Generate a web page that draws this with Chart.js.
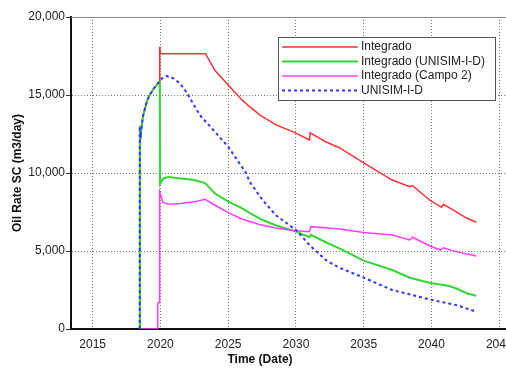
<!DOCTYPE html>
<html lang="en">
<head>
    <meta charset="UTF-8">
    <title>Oil Rate SC</title>
    <script src="https://cdn.jsdelivr.net/npm/chart.js"></script>
    <style>
        html, body { margin: 0; padding: 0; background: #fff; overflow: hidden; }
        #wrap { position: relative; width: 506px; height: 368px; }
    </style>
</head>
<body>
    <div id="wrap"><canvas id="oilChart" width="506" height="368"></canvas></div>

    <script>
        // Integrado
        const redYears  = [2018.47, 2018.48, 2018.55, 2018.7, 2019.0, 2019.2, 2019.5, 2019.93, 2019.95, 2020.0, 2023.33, 2024.0, 2025.0, 2026.0, 2026.58, 2027.4, 2028.5, 2030.0, 2031.0, 2031.05, 2032.2, 2033.2, 2035.0, 2037.1, 2038.4, 2038.6, 2039.85, 2040.75, 2040.88, 2041.8, 2042.56, 2043.3];
        const redValues = [0, 13000, 12500, 13600, 14600, 15000, 15400, 15850, 18100, 17650, 17650, 16600, 15640, 14700, 14250, 13680, 13100, 12560, 12115, 12580, 12000, 11620, 10650, 9550, 9120, 9190, 8270, 7800, 7990, 7520, 7130, 6840];

        // Integrado (UNISIM-I-D)
        const greenYears  = [2018.47, 2018.48, 2018.55, 2018.7, 2019.0, 2019.2, 2019.5, 2019.9, 2019.95, 2019.97, 2020.2, 2020.6, 2021.5, 2022.5, 2023.3, 2024.0, 2025.0, 2026.0, 2026.58, 2027.5, 2028.5, 2030.0, 2031.0, 2031.1, 2032.2, 2033.2, 2035.0, 2037.1, 2038.4, 2039.85, 2041.3, 2041.8, 2042.6, 2043.3];
        const greenValues = [0, 13000, 12500, 13600, 14600, 15000, 15400, 15850, 15800, 9300, 9650, 9750, 9650, 9550, 9350, 8700, 8160, 7750, 7450, 7000, 6650, 6240, 5880, 6030, 5560, 5170, 4380, 3780, 3290, 2970, 2760, 2610, 2290, 2130];

        // Integrado (Campo 2)
        const magentaYears  = [2018.47, 2019.79, 2019.8, 2019.92, 2019.94, 2020.2, 2020.68, 2021.5, 2022.5, 2023.3, 2024.0, 2025.0, 2026.0, 2027.3, 2028.5, 2030.0, 2031.0, 2031.1, 2033.2, 2035.0, 2037.1, 2038.4, 2038.6, 2039.85, 2040.66, 2040.88, 2041.8, 2043.3];
        const magentaValues = [0, 0, 1670, 1700, 8800, 8100, 8000, 8050, 8150, 8310, 7950, 7460, 7050, 6700, 6480, 6300, 6240, 6560, 6410, 6180, 6030, 5710, 5880, 5340, 5060, 5210, 4960, 4680];

        // UNISIM-I-D
        const blueYears  = [2018.47, 2018.48, 2018.55, 2018.7, 2019.0, 2019.2, 2019.5, 2019.9, 2020.1, 2020.43, 2021.0, 2021.42, 2021.9, 2022.9, 2025.0, 2026.33, 2026.58, 2027.54, 2028.5, 2030.0, 2031.0, 2032.2, 2033.2, 2035.0, 2037.1, 2039.85, 2041.8, 2043.3];
        const blueValues = [0, 13000, 12500, 13600, 14600, 15000, 15400, 15850, 16050, 16220, 16050, 15750, 15210, 13720, 11690, 9980, 9440, 8270, 7300, 6350, 5380, 4420, 3930, 3290, 2500, 1900, 1540, 1110];

        const seriesNames = ['Integrado', 'Integrado (UNISIM-I-D)', 'Integrado (Campo 2)', 'UNISIM-I-D'];
        const xTicks = [2015, 2020, 2025, 2030, 2035, 2040, 2045];
        const yTicks = [0, 5000, 10000, 15000, 20000];

        const pts = (xs, ys) => xs.map((x, i) => ({ x: x, y: ys[i] }));
        const FONT = "'Liberation Sans', Arial, sans-serif";

        // legend box drawn inside the plot, top right
        const boxLegend = {
            id: 'boxLegend',
            afterDraw(chart) {
                const ctx = chart.ctx;
                const x0 = 278, y0 = 37, w = 217, h = 63;
                ctx.save();
                ctx.fillStyle = '#fff';
                ctx.fillRect(x0, y0, w, h);
                ctx.strokeStyle = '#555';
                ctx.lineWidth = 1;
                ctx.strokeRect(x0 + 0.5, y0 + 0.5, w, h);
                ctx.font = '12px ' + FONT;
                ctx.textBaseline = 'middle';
                chart.data.datasets.forEach((ds, i) => {
                    const y = y0 + 10 + i * 14.5;
                    ctx.beginPath();
                    ctx.setLineDash(ds.borderDash || []);
                    ctx.strokeStyle = ds.borderColor;
                    ctx.lineWidth = ds.borderWidth;
                    ctx.moveTo(282, y);
                    ctx.lineTo(358, y);
                    ctx.stroke();
                    ctx.setLineDash([]);
                    ctx.fillStyle = '#222';
                    ctx.fillText(ds.label, 361, y);
                });
                ctx.restore();
            }
        };

        // solid grey top frame and the x title
        const frame = {
            id: 'frame',
            beforeDatasetsDraw(chart) {
                const { ctx, chartArea } = chart;
                ctx.save();
                ctx.strokeStyle = '#888';
                ctx.lineWidth = 1;
                ctx.beginPath();
                ctx.moveTo(chartArea.left, chartArea.top + 0.5);
                ctx.lineTo(chartArea.right, chartArea.top + 0.5);
                ctx.stroke();
                ctx.restore();
            },
            afterDraw(chart) {
                const ctx = chart.ctx;
                ctx.save();
                ctx.font = 'bold 12px ' + FONT;
                ctx.fillStyle = '#111';
                ctx.textAlign = 'center';
                ctx.textBaseline = 'middle';
                ctx.fillText('Time (Date)', 260, 360);
                ctx.restore();
            }
        };

        new Chart(document.getElementById('oilChart'), {
            type: 'line',
            data: {
                datasets: [{
                    label: seriesNames[0],
                    data: pts(redYears, redValues),
                    borderColor: '#ff3030',
                    borderWidth: 1.5,
                    order: 4
                }, {
                    label: seriesNames[1],
                    data: pts(greenYears, greenValues),
                    borderColor: '#33d633',
                    borderWidth: 2,
                    order: 3
                }, {
                    label: seriesNames[2],
                    data: pts(magentaYears, magentaValues),
                    borderColor: '#ff3cff',
                    borderWidth: 1.5,
                    order: 2
                }, {
                    label: seriesNames[3],
                    data: pts(blueYears, blueValues),
                    borderColor: '#3038ff',
                    borderWidth: 2,
                    borderDash: [3, 3],
                    order: 1
                }]
            },
            options: {
                responsive: false,
                animation: false,
                layout: { padding: { top: 17, left: 0, right: 0, bottom: 0 } },
                elements: { point: { radius: 0 }, line: { tension: 0 } },
                plugins: { legend: { display: false }, tooltip: { enabled: false } },
                scales: {
                    x: {
                        type: 'linear',
                        min: 2013.4,
                        max: 2045.5,
                        afterBuildTicks: s => { s.ticks = xTicks.map(v => ({ value: v })); },
                        afterFit: s => { s.height = 39; s.paddingLeft = 0; s.paddingRight = 0; },
                        border: { color: '#111', width: 2, dash: [1, 2] },
                        grid: { color: '#777', drawTicks: false },
                        ticks: {
                            padding: 8,
                            color: '#222',
                            font: { family: FONT, size: 12 },
                            maxRotation: 0,
                            autoSkip: false,
                            callback: v => String(v)
                        }
                    },
                    y: {
                        min: 0,
                        max: 20000,
                        afterBuildTicks: s => { s.ticks = yTicks.map(v => ({ value: v })); },
                        afterFit: s => { s.width = 71; },
                        border: { color: '#111', width: 2, dash: [1, 2] },
                        grid: {
                            color: '#777',
                            tickLength: 5,
                            tickColor: '#333',
                            tickBorderDash: [],
                            tickWidth: 1
                        },
                        ticks: {
                            padding: 1,
                            color: '#222',
                            font: { family: FONT, size: 12 },
                            callback: v => v.toLocaleString('en-US')
                        },
                        title: {
                            display: true,
                            text: 'Oil Rate SC (m3/day)',
                            color: '#111',
                            font: { family: FONT, size: 12, weight: 'bold' },
                            padding: { top: 10, bottom: 0 }
                        }
                    }
                }
            },
            plugins: [frame, boxLegend]
        });
    </script>
</body>
</html>
